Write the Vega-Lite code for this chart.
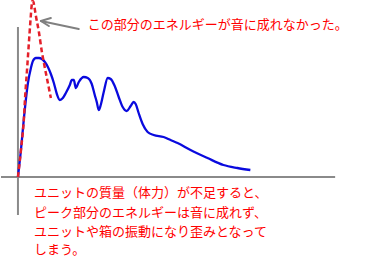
{
  "$schema": "https://vega.github.io/schema/vega-lite/v6.json",
  "width": 389,
  "height": 266,
  "autosize": {"type": "fit", "contains": "padding"},
  "padding": 0,
  "background": "white",
  "config": {"view": {"stroke": null}},
  "datasets": {
    "axes": [
      {"x": -17, "x2": 318, "y": 0, "y2": 0},
      {"x": 0, "x2": 0, "y": -38, "y2": 150}
    ],
    "response": [
      {"t": 0, "a": 0}, {"t": 3, "a": 27}, {"t": 6, "a": 59}, {"t": 10, "a": 94},
      {"t": 13, "a": 109}, {"t": 15, "a": 116}, {"t": 18, "a": 119}, {"t": 21, "a": 119},
      {"t": 24, "a": 118}, {"t": 27, "a": 115}, {"t": 30, "a": 110}, {"t": 33, "a": 103},
      {"t": 36, "a": 94}, {"t": 39, "a": 83}, {"t": 42, "a": 77}, {"t": 45, "a": 79},
      {"t": 48, "a": 84}, {"t": 52, "a": 92}, {"t": 54, "a": 97}, {"t": 56, "a": 97},
      {"t": 58, "a": 89}, {"t": 61, "a": 95}, {"t": 66, "a": 100}, {"t": 70, "a": 99},
      {"t": 74, "a": 93}, {"t": 77, "a": 82}, {"t": 79, "a": 75}, {"t": 81, "a": 67},
      {"t": 83, "a": 72}, {"t": 86, "a": 85}, {"t": 90, "a": 99}, {"t": 93, "a": 98},
      {"t": 97, "a": 91}, {"t": 101, "a": 80}, {"t": 105, "a": 70}, {"t": 109, "a": 66},
      {"t": 113, "a": 71}, {"t": 116, "a": 75}, {"t": 118, "a": 73}, {"t": 121, "a": 64},
      {"t": 125, "a": 53}, {"t": 130, "a": 45}, {"t": 136, "a": 42}, {"t": 146, "a": 40},
      {"t": 153, "a": 37}, {"t": 160, "a": 34}, {"t": 173, "a": 27}, {"t": 190, "a": 19},
      {"t": 206, "a": 12}, {"t": 220, "a": 9}, {"t": 233, "a": 7}
    ],
    "peak": [
      {"t": 0, "a": 0}, {"t": 3, "a": 27}, {"t": 6, "a": 59}, {"t": 7, "a": 77},
      {"t": 9.3, "a": 110}, {"t": 11.5, "a": 142}, {"t": 12.8, "a": 160}, {"t": 13.6, "a": 170},
      {"t": 14.5, "a": 176}, {"t": 15.5, "a": 175}, {"t": 16.5, "a": 170}, {"t": 18, "a": 161},
      {"t": 21, "a": 145}, {"t": 24, "a": 125}, {"t": 27, "a": 109}, {"t": 30, "a": 94},
      {"t": 33, "a": 79}
    ],
    "arrow": [
      {"part": "shaft", "seq": 1, "x": 23, "y": 156},
      {"part": "shaft", "seq": 2, "x": 61, "y": 148},
      {"part": "head", "seq": 1, "x": 33, "y": 159},
      {"part": "head", "seq": 2, "x": 23, "y": 156},
      {"part": "head", "seq": 3, "x": 31, "y": 151}
    ],
    "notes": [
      {"x": 70, "y": 152, "text": "この部分のエネルギーが音に成れなかった。"},
      {"x": 16, "y": -16, "text": "ユニットの質量（体力）が不足すると、"},
      {"x": 16, "y": -36, "text": "ピーク部分のエネルギーは音に成れず、"},
      {"x": 16, "y": -55, "text": "ユニットや箱の振動になり歪みとなって"},
      {"x": 16, "y": -73, "text": "しまう。"}
    ]
  },
  "layer": [
    {
      "data": {"name": "axes"},
      "mark": {"type": "rule", "color": "#8a8a8a", "strokeWidth": 2},
      "encoding": {
        "x": {"field": "x", "type": "quantitative", "scale": {"domain": [-17, 372], "nice": false, "zero": false}, "axis": null},
        "x2": {"field": "x2"},
        "y": {"field": "y", "type": "quantitative", "scale": {"domain": [-89, 177], "nice": false, "zero": false}, "axis": null},
        "y2": {"field": "y2"}
      }
    },
    {
      "data": {"name": "response"},
      "mark": {"type": "line", "color": "#0a0ade", "strokeWidth": 2.3, "interpolate": "monotone", "clip": true},
      "encoding": {
        "x": {"field": "t", "type": "quantitative", "scale": {"domain": [-17, 372], "nice": false, "zero": false}, "axis": null},
        "y": {"field": "a", "type": "quantitative", "scale": {"domain": [-89, 177], "nice": false, "zero": false}, "axis": null}
      }
    },
    {
      "data": {"name": "peak"},
      "mark": {"type": "line", "color": "#e4202a", "strokeWidth": 2.5, "strokeDash": [5, 3], "interpolate": "monotone", "clip": true},
      "encoding": {
        "x": {"field": "t", "type": "quantitative", "scale": {"domain": [-17, 372], "nice": false, "zero": false}, "axis": null},
        "y": {"field": "a", "type": "quantitative", "scale": {"domain": [-89, 177], "nice": false, "zero": false}, "axis": null}
      }
    },
    {
      "data": {"name": "arrow"},
      "mark": {"type": "line", "color": "#808080", "strokeWidth": 2, "strokeCap": "round", "strokeJoin": "round"},
      "encoding": {
        "x": {"field": "x", "type": "quantitative", "scale": {"domain": [-17, 372], "nice": false, "zero": false}, "axis": null},
        "y": {"field": "y", "type": "quantitative", "scale": {"domain": [-89, 177], "nice": false, "zero": false}, "axis": null},
        "detail": {"field": "part"},
        "order": {"field": "seq"}
      }
    },
    {
      "data": {"name": "notes"},
      "mark": {"type": "text", "align": "left", "baseline": "middle", "font": "Noto Sans CJK JP", "fontSize": 13, "color": "#ff0000"},
      "encoding": {
        "x": {"field": "x", "type": "quantitative", "scale": {"domain": [-17, 372], "nice": false, "zero": false}, "axis": null},
        "y": {"field": "y", "type": "quantitative", "scale": {"domain": [-89, 177], "nice": false, "zero": false}, "axis": null},
        "text": {"field": "text"}
      }
    }
  ]
}
